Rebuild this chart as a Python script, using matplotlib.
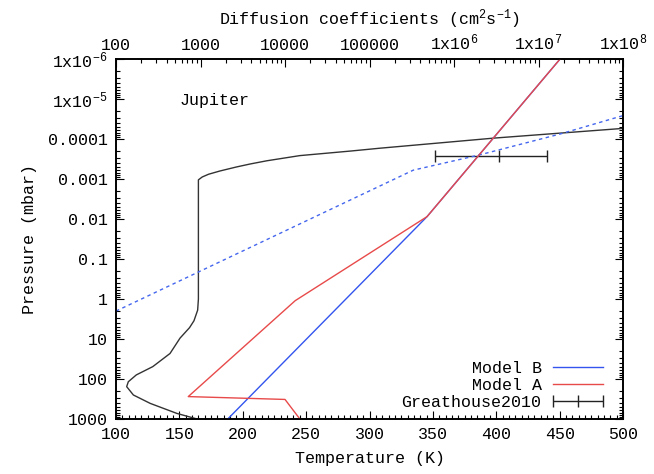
import numpy as np
import matplotlib
matplotlib.use("Agg")
import matplotlib.pyplot as plt
from matplotlib.ticker import FixedLocator, MultipleLocator, LogLocator, NullFormatter
from matplotlib.container import ErrorbarContainer
from matplotlib.legend_handler import HandlerErrorbar

plt.rcParams['font.family'] = ['Liberation Mono', 'DejaVu Sans Mono']
plt.rcParams['mathtext.fontset'] = 'custom'
plt.rcParams['mathtext.rm'] = 'Liberation Mono'
plt.rcParams['mathtext.it'] = 'Liberation Mono'
plt.rcParams['mathtext.bf'] = 'Liberation Mono'
plt.rcParams['font.size'] = 12

# temperature profile (bottom axis)
temp_T = [164, 148, 127, 113.7, 108.4, 109.7, 116, 129, 142.6, 150.5, 158, 161.5,
          164.4, 165, 165, 168, 173, 182, 195, 206, 219, 245, 285, 308, 398, 501]
temp_P = [1000, 724, 407, 251, 155, 117, 79, 49, 23, 9.5, 5.2, 3.5,
          1.9, 1.0, 1.05e-3, 8.9e-4, 7.6e-4, 6.3e-4, 5.0e-4, 4.2e-4, 3.5e-4,
          2.6e-4, 2.0e-4, 1.7e-4, 9.5e-5, 5.4e-5]

# diffusion coefficient profiles (top axis)
dash_K = [1e2, 3.3e5, 2.0e6, 1.8e7, 1e8]
dash_P = [2.0, 6.0e-4, 2.5e-4, 7.5e-5, 2.6e-5]

modelB_K = [2.1e3, 4.8e5, 1.8e7]
modelB_P = [1000, 8.7e-3, 1e-6]

modelA_K = [1.5e4, 1.0e4, 716, 1.32e4, 4.8e5, 1.8e7]
modelA_P = [1000, 324, 275, 1.1, 8.7e-3, 1e-6]

# Greathouse2010 point
gh_T = [402]
gh_P = [2.6e-4]
gh_err = [[50], [38]]

p_ticks = [1e-6, 1e-5, 1e-4, 1e-3, 1e-2, 1e-1, 1, 10, 100, 1000]
p_labels = [r'1x10$^{-6}$', r'1x10$^{-5}$', '0.0001', '0.001', '0.01', '0.1', '1', '10', '100', '1000']
k_ticks = [1e2, 1e3, 1e4, 1e5, 1e6, 1e7, 1e8]
k_labels = ['100', '1000', '10000', '100000', r'1x10$^6$', r'1x10$^7$', r'1x10$^8$']

fig = plt.figure(figsize=(6.54, 4.74), dpi=100)
ax = fig.add_axes([0.1774, 0.116, 0.7752, 0.7595])
axt = ax.twiny()

ax.plot(temp_T, temp_P, color='#333333', lw=1)
axt.plot(dash_K, dash_P, color='#4466ee', lw=1, dashes=(2.5, 2.5))
lb, = axt.plot(modelB_K, modelB_P, color='#3355ee', lw=1, label='Model B')
la, = axt.plot(modelA_K, modelA_P, color='#e84a4a', lw=1, label='Model A')
eb = ax.errorbar(gh_T, gh_P, xerr=gh_err, fmt='|', color='#222222', ms=8, mew=1,
                 elinewidth=1, capsize=4, capthick=1, label='Greathouse2010')

ax.set_xlim(100, 500)
ax.set_yscale('log')
ax.set_ylim(1000, 1e-6)
axt.set_xscale('log')
axt.set_xlim(1e2, 1e8)

ax.xaxis.set_major_locator(MultipleLocator(50))
ax.xaxis.set_minor_locator(MultipleLocator(5))
ax.yaxis.set_major_locator(FixedLocator(p_ticks))
ax.set_yticklabels(p_labels)
ax.yaxis.set_minor_locator(LogLocator(base=10, subs=np.arange(2, 10), numticks=20))
ax.yaxis.set_minor_formatter(NullFormatter())
axt.xaxis.set_major_locator(FixedLocator(k_ticks))
axt.set_xticklabels(k_labels)
axt.xaxis.set_minor_locator(LogLocator(base=10, subs=np.arange(2, 10), numticks=20))
axt.xaxis.set_minor_formatter(NullFormatter())

ax.tick_params(which='both', direction='in', right=True, top=False, width=0.8)
ax.tick_params(which='major', length=6, pad=6)
ax.tick_params(which='minor', length=3)
axt.tick_params(which='both', direction='in', width=0.8)
axt.tick_params(which='major', length=6, pad=4)
axt.tick_params(which='minor', length=3)
for a in (ax, axt):
    for s in a.spines.values():
        s.set_linewidth(1.2)

ax.set_xlabel('Temperature (K)', labelpad=6)
ax.set_ylabel('Pressure (mbar)', labelpad=8)
axt.set_xlabel(r'Diffusion coefficients (cm$^2$s$^{-1}$)', labelpad=6)

ax.text(150, 1.07e-5, 'Jupiter', ha='left', va='center')

ax.legend([lb, la, eb], ['Model B', 'Model A', 'Greathouse2010'], loc='lower right',
          bbox_to_anchor=(0.961, 0.026), borderaxespad=0, borderpad=0,
          frameon=False, markerfirst=False, handlelength=3.0, handletextpad=0.7,
          labelspacing=0.12,
          handler_map={ErrorbarContainer: HandlerErrorbar(xerr_size=1.5)})

fig.savefig('out.png', dpi=100)
